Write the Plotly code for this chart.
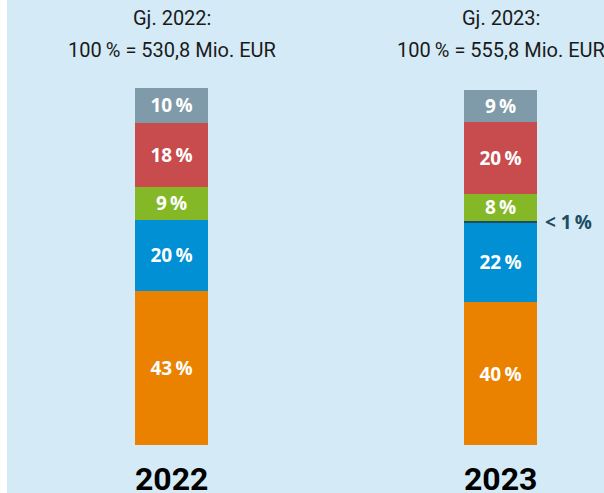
import plotly.graph_objects as go

years = ["2022", "2023"]
header1 = ["Gj. 2022:", "Gj. 2023:"]
header2 = ["100\u2009% = 530,8 Mio. EUR", "100\u2009% = 555,8 Mio. EUR"]

# stacked segments bottom -> top
orange = [43.2, 40.1]
blue = [19.9, 22.2]
dark = [0.0, 0.6]
green = [9.3, 7.6]
red = [18.0, 20.2]
grey = [9.8, 9.0]

orange_lbl = ["43\u2009%", "40\u2009%"]
blue_lbl = ["20\u2009%", "22\u2009%"]
green_lbl = ["9\u2009%", "8\u2009%"]
red_lbl = ["18\u2009%", "20\u2009%"]
grey_lbl = ["10\u2009%", "9\u2009%"]
dark_note = "< 1\u2009%"

BG = "#d4ebf7"
x = [0, 1]
W = 0.222

fig = go.Figure()
series = [
    (orange, orange_lbl, "#ea8200"),
    (blue, blue_lbl, "#0090d3"),
    (dark, ["", ""], "#1e4c62"),
    (green, green_lbl, "#84b826"),
    (red, red_lbl, "#c84b4d"),
    (grey, grey_lbl, "#7f9aa9"),
]
for vals, lbl, col in series:
    fig.add_trace(go.Bar(
        x=x, y=vals, width=W, marker=dict(color=col, line=dict(width=0)),
        text=lbl, textposition="inside", insidetextanchor="middle",
        textfont=dict(family="Open Sans", size=19, color="white", weight="bold"),
        hoverinfo="skip", showlegend=False,
    ))

for i in range(len(years)):
    fig.add_annotation(x=x[i], y=1 - 18 / 493, yref="paper", text=header1[i], showarrow=False,
                       font=dict(family="Roboto", size=20, color="#1a1a1a"),
                       yanchor="middle", xanchor="center")
    fig.add_annotation(x=x[i], y=1 - 50 / 493, yref="paper", text=header2[i], showarrow=False,
                       font=dict(family="Roboto", size=20, color="#1a1a1a"),
                       yanchor="middle", xanchor="center")
    fig.add_annotation(x=x[i], y=1 - 479 / 493, yref="paper", text="<b>" + years[i] + "</b>",
                       showarrow=False, font=dict(family="Roboto", size=32, color="#000000"),
                       yanchor="middle", xanchor="center")

cum = orange[1] + blue[1] + dark[1] / 2
fig.add_annotation(x=x[1] + W / 2, y=cum, text="<b>" + dark_note + "</b>", showarrow=False,
                   xanchor="left", xshift=6, yanchor="middle",
                   font=dict(family="Open Sans", size=19, color="#1e4c62"))

fig.update_layout(
    barmode="stack", width=604, height=493,
    margin=dict(l=7, r=0, t=0, b=0),
    paper_bgcolor="white", plot_bgcolor=BG,
    uniformtext=dict(minsize=19, mode="show"),
    xaxis=dict(range=[-0.5, 1.3146], visible=False, fixedrange=True),
    yaxis=dict(range=[-13.46, 124.8], visible=False, fixedrange=True),
)
fig.write_html("out.html")
